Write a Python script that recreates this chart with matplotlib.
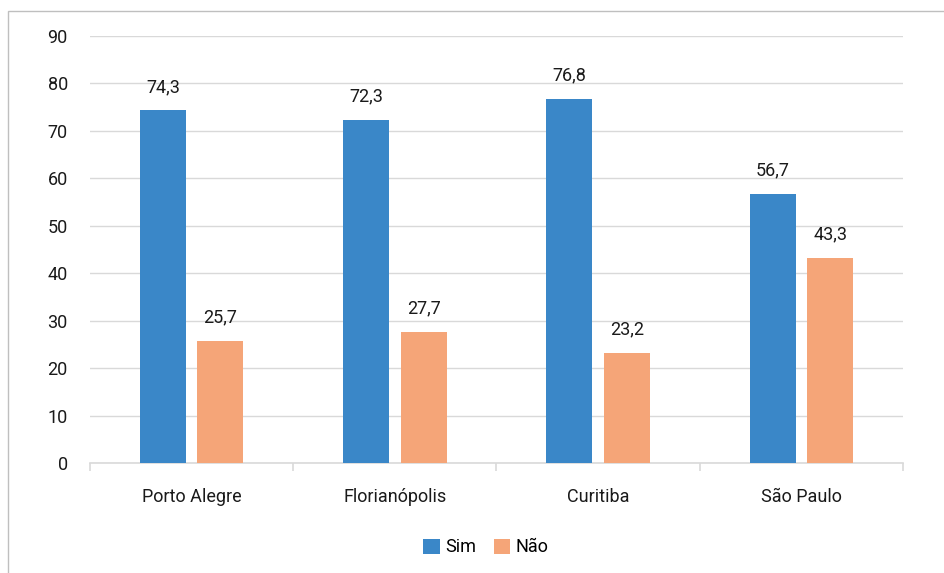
import numpy as np
import matplotlib.pyplot as plt
from matplotlib.patches import Rectangle

plt.rcParams['font.family'] = ['Liberation Sans Narrow', 'Roboto', 'DejaVu Sans']

cidades = ['Porto Alegre', 'Florianópolis', 'Curitiba', 'São Paulo']
sim = [74.3, 72.3, 76.8, 56.7]
nao = [25.7, 27.7, 23.2, 43.3]
yticks = [0, 10, 20, 30, 40, 50, 60, 70, 80, 90]

azul = '#3A87C8'
laranja = '#F5A578'

fig = plt.figure(figsize=(9.45, 5.73), dpi=100)
# moldura cinza do grafico
fig.patches.append(Rectangle((8 / 945, -0.01), 1.0, 1 - 11 / 573 + 0.01,
                             transform=fig.transFigure, fill=False,
                             edgecolor='#BFBFBF', linewidth=1.0))

ax = fig.add_axes([90 / 945, 1 - 463 / 573, 813 / 945, 427 / 573])

x = np.arange(len(cidades))
w = 0.226
off = 0.1415
b1 = ax.bar(x - off, sim, w, color=azul, label='Sim', zorder=3)
b2 = ax.bar(x + off, nao, w, color=laranja, label='Não', zorder=3)

for bars, vals in [(b1, sim), (b2, nao)]:
    for r, v in zip(bars, vals):
        ax.annotate(f'{v:.1f}'.replace('.', ','),
                    (r.get_x() + r.get_width() / 2, v),
                    xytext=(0, 17), textcoords='offset points',
                    ha='center', va='center', fontsize=13, color='#1a1a1a')

ax.set_xlim(-0.5, len(cidades) - 0.5)
ax.set_ylim(0, 90)
ax.set_yticks(yticks)
ax.grid(axis='y', color='#D9D9D9', linewidth=1.0, zorder=0)
for s in ['top', 'right', 'left']:
    ax.spines[s].set_visible(False)
ax.spines['bottom'].set_color('#D9D9D9')
ax.spines['bottom'].set_linewidth(1.2)

ax.set_xticks(x)
ax.set_xticklabels(cidades)
ax.tick_params(axis='x', length=0, pad=18, labelsize=13, labelcolor='#1a1a1a')
ax.tick_params(axis='y', length=0, pad=16, labelsize=13, labelcolor='#1a1a1a')
# marcas de divisao entre categorias
ax.set_xticks(np.arange(-0.5, len(cidades)), minor=True)
ax.tick_params(axis='x', which='minor', length=6, color='#D9D9D9', width=1.2)

ax.legend(loc='upper center', bbox_to_anchor=(486 / 945, 51 / 573),
          bbox_transform=fig.transFigure, ncol=2, frameon=False,
          fontsize=13, handlelength=0.9, handleheight=0.9,
          handletextpad=0.3, columnspacing=1.0)

fig.savefig('out.png', dpi=100)
